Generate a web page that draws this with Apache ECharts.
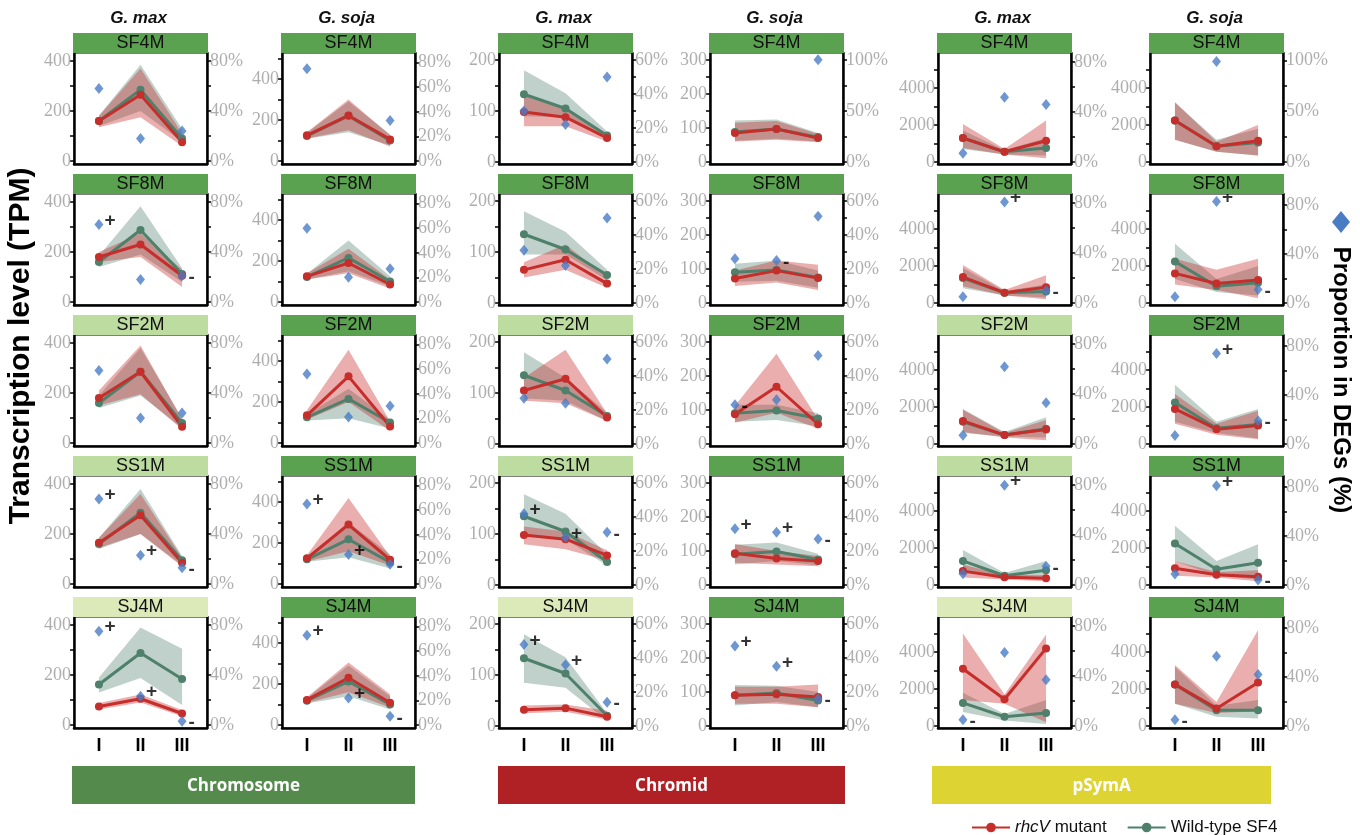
<!DOCTYPE html>
<html><head><meta charset="utf-8">
<script src="https://cdn.jsdelivr.net/npm/echarts@6/dist/echarts.min.js"></script>
<style>html,body{margin:0;padding:0;background:#fff}#c{width:1360px;height:835px}</style>
</head><body><div id="c"></div>
<script>
// ---------------- DATA ----------------
const stages = ['I', 'II', 'III'];
const strains = ['SF4M', 'SF8M', 'SF2M', 'SS1M', 'SJ4M'];
const hosts = ['G. max', 'G. soja', 'G. max', 'G. soja', 'G. max', 'G. soja'];
const replicons = ['Chromosome', 'Chromid', 'pSymA'];
const legendNames = ['rhcV mutant', 'Wild-type SF4'];

// TPM axis per column
const leftRange = [[-12, 432], [-15, 527], [-4, 214], [-6, 320], [-110, 5900], [-110, 5900]];
const leftTicks = [[0,100,200,300,400],[0,100,200,300,400,500],[0,50,100,150,200],[0,50,100,150,200,250,300],[0,1000,2000,3000,4000,5000],[0,1000,2000,3000,4000,5000]];
const leftLabels = [[0,200,400],[0,200,400],[0,100,200],[0,100,200,300],[0,2000,4000],[0,2000,4000]];

// % of DEGs per TPM unit (secondary axis), [column][row]
const rightRatio = [
  [0.2, 0.2, 0.2, 0.2, 0.2],
  [1/6, 1/6, 1/6, 1/6, 1/6],
  [0.3, 0.3, 0.3, 0.3, 0.3],
  [1/3, 0.2, 0.2, 0.2, 0.2],
  [80/5400, 80/5400, 80/5400, 80/5400, 80/5400],
  [100/5500, 80/5300, 80/5300, 80/5300, 80/5300]
];
const rightTickSets = {
  a80: [[0,20,40,60,80],[0,40,80]],
  b80: [[0,20,40,60,80],[0,20,40,60,80]],
  c60: [[0,10,20,30,40,50,60],[0,20,40,60]],
  d100: [[0,25,50,75,100],[0,50,100]]
};
const rightTickType = [
  ['a80','a80','a80','a80','a80'],
  ['b80','b80','b80','b80','b80'],
  ['c60','c60','c60','c60','c60'],
  ['d100','c60','c60','c60','c60'],
  ['a80','a80','a80','a80','a80'],
  ['d100','a80','a80','a80','a80']
];

// rhcV mutant mean TPM, [column][row][stage]
const redMean = [
  [[160,265,75],[180,230,105],[180,285,65],[165,275,85],[74,105,46]],
  [[125,222,105],[125,190,85],[135,325,80],[125,290,118],[122,230,108]],
  [[98,88,47],[65,85,38],[105,128,52],[98,90,58],[32,35,18]],
  [[85,97,70],[72,95,73],[87,168,58],[93,78,70],[90,93,85]],
  [[1300,550,1150],[1400,560,850],[1250,480,780],[750,420,370],[3100,1450,4200]],
  [[2250,850,1150],[1600,1050,1250],[1900,800,1000],[900,550,450],[2250,950,2350]]
];
const redLo = [
  [[135,175,60],[160,180,60],[150,195,55],[145,200,70],[62,90,35]],
  [[110,150,70],[110,140,65],[115,200,60],[110,160,90],[108,160,85]],
  [[70,70,40],[50,65,30],[85,80,45],[80,70,48],[25,28,12]],
  [[60,65,58],[50,60,38],[62,92,45],[65,60,55],[65,65,55]],
  [[750,400,200],[900,400,200],[650,350,200],[400,300,200],[1400,1200,200]],
  [[1200,550,350],[1000,700,250],[1100,500,250],[500,400,200],[1200,700,800]]
];
const redHi = [
  [[180,370,110],[200,275,130],[210,390,95],[185,360,105],[88,122,60]],
  [[140,300,125],[140,260,110],[160,455,105],[140,420,135],[135,305,150]],
  [[130,105,55],[80,115,50],[130,185,60],[115,105,68],[40,42,30]],
  [[115,120,82],[95,125,112],[112,265,72],[120,100,85],[115,115,122]],
  [[2050,700,2250],[2050,700,1500],[1850,600,1300],[1100,550,520],[5000,1700,4950]],
  [[3250,1100,2000],[2400,1800,2400],[2700,1100,1800],[1300,700,800],[3300,1300,5200]]
];
// Wild-type SF4 mean TPM
const wtMean = [
  [[160,285,90],[160,288,112],[160,285,80],[160,285,95],[162,288,184]],
  [[122,220,100],[122,215,100],[125,215,100],[120,218,105],[118,212,100]],
  [[133,105,52],[135,105,55],[135,105,55],[135,105,45],[133,103,20]],
  [[88,97,73],[90,97,75],[90,98,75],[90,98,75],[90,97,75]],
  [[1300,550,750],[1350,550,620],[1200,480,820],[1300,500,800],[1250,500,700]],
  [[2250,850,1050],[2250,900,1100],[2250,850,1050],[2250,850,1200],[2250,850,850]]
];
const wtLo = [
  [[140,200,78],[140,190,80],[140,190,60],[140,200,75],[130,188,80]],
  [[108,140,75],[110,150,75],[110,120,70],[108,130,75],[105,140,75]],
  [[90,88,45],[95,95,45],[90,85,45],[95,90,38],[85,75,10]],
  [[62,68,60],[62,65,45],[65,70,52],[60,70,58],[60,70,55]],
  [[700,400,350],[800,400,300],[600,400,350],[800,300,400],[750,300,100]],
  [[1200,550,350],[1300,600,400],[1200,600,300],[1300,500,300],[1200,500,400]]
];
const wtHi = [
  [[182,385,128],[185,383,135],[190,380,100],[185,380,112],[190,390,305]],
  [[138,290,130],[138,300,125],[140,265,115],[135,300,145],[132,290,140]],
  [[180,135,60],[180,140,65],[180,130,62],[178,140,60],[180,135,25]],
  [[122,125,85],[115,125,95],[115,115,90],[118,125,92],[120,118,100]],
  [[1700,650,1300],[1900,650,1000],[1900,650,1450],[1900,650,1300],[1800,650,1400]],
  [[3200,1200,1800],[3200,1300,2000],[3200,1200,1900],[3200,1300,2200],[3200,1100,1400]]
];
// Proportion in DEGs (%)
const degPct = [
  [[58,18,24],[62,18,21],[58,20,24],[68,23,13],[75,23,3]],
  [[75,null,33],[60,20,27],[56,21,30],[65,24,16],[73,22,7]],
  [[30,22,50],[31,22,50],[27,24,50],[42,28,31],[48,36,14]],
  [[null,null,100],[26,25,51],[23,26,52],[33,31,27],[47,35,16]],
  [[7,52,46],[5,81,10],[7,62,33],[9,80,15],[5,59,37]],
  [[null,99,null],[5,83,11],[7,74,19],[9,81,4],[5,57,42]]
];
const degSign = [
  [['','',''],['+','','-'],['','',''],['+','+','-'],['+','+','-']],
  [['','',''],['','',''],['','',''],['+','+','-'],['+','+','-']],
  [['','',''],['','',''],['','',''],['+','+','-'],['+','+','-']],
  [['','',''],['','-',''],['-','',''],['+','+','-'],['+','+','-']],
  [['','',''],['','+','-'],['','',''],['','+','-'],['-','','']],
  [['','',''],['','+','-'],['','+','-'],['','+','-'],['-','','']]
];
const stripShade = [
  ['dark','dark','light','light','pale'],
  ['dark','dark','dark','dark','dark'],
  ['dark','dark','light','light','pale'],
  ['dark','dark','dark','dark','dark'],
  ['dark','dark','light','light','pale'],
  ['dark','dark','dark','dark','dark']
];

// ---------------- LAYOUT / STYLE ----------------
const colLeft = [74, 282, 499, 710, 938, 1150];
const rowTop = [53, 194, 335, 476, 617];
const W = 133, H = 111;
const RED = '#C62E2B', GREEN = '#4E806C', BLUE = '#4A7CC4';
const stripColors = {dark: '#5AA150', light: '#BCDCA0', pale: '#DCE9B8'};
const repColors = ['#548B4C', '#B02126', '#DDD333'];
const repSpan = [[72, 415], [498, 845], [932, 1271]];
const tickFont = 'Liberation Serif';
const tickColor = '#AEAEAE';

const grids = [], xAxes = [], yAxes = [], series = [], graphics = [];
const xy = arr => arr.map((v, i) => [i + 1, v]);

function bandSeries(p, L, lo, hi, col) {
  return {type: 'custom', xAxisIndex: p, yAxisIndex: L, silent: true, z: 2, clip: true,
    data: lo.map((v, i) => [i + 1, v, hi[i]]),
    encode: {x: 0, y: [1, 2]},
    renderItem: (params, api) => {
      if (params.dataIndex !== 0) return null;
      const top = hi.map((v, i) => api.coord([i + 1, v]));
      const bot = lo.map((v, i) => api.coord([i + 1, v])).reverse();
      return {type: 'polygon', shape: {points: top.concat(bot)}, style: {fill: col}};
    }};
}

for (let c = 0; c < 6; c++) {
  for (let r = 0; r < 5; r++) {
    const p = grids.length;
    const k = rightRatio[c][r];
    const rt = rightTickSets[rightTickType[c][r]];
    grids.push({left: colLeft[c], top: rowTop[r], width: W, height: H, show: true,
      borderColor: '#000', borderWidth: 1, backgroundColor: '#fff'});
    xAxes.push({gridIndex: p, type: 'value', min: 0.4, max: 3.6,
      axisLine: {show: true, onZero: false, lineStyle: {color: '#000', width: 2.5}},
      axisTick: {show: false}, splitLine: {show: false},
      axisLabel: {show: r === 4, customValues: [1, 2, 3], formatter: v => stages[Math.round(v) - 1] || '',
        color: '#000', fontWeight: 'bold', fontSize: 18, fontFamily: 'Liberation Sans', margin: 9}});
    yAxes.push({gridIndex: p, type: 'value', position: 'left', min: leftRange[c][0], max: leftRange[c][1],
      axisLine: {show: true, onZero: false, lineStyle: {color: '#000', width: 2.5}},
      axisTick: {show: true, customValues: leftTicks[c], length: 4, lineStyle: {color: '#000', width: 1.5}},
      axisLabel: {customValues: leftLabels[c], formatter: v => String(Math.round(v)), color: tickColor, fontFamily: tickFont, fontSize: 18, margin: 3},
      splitLine: {show: false}});
    yAxes.push({gridIndex: p, type: 'value', position: 'right', min: leftRange[c][0] * k, max: leftRange[c][1] * k,
      axisLine: {show: true, onZero: false, lineStyle: {color: '#000', width: 2.5}},
      axisTick: {show: true, customValues: rt[0], length: 4, lineStyle: {color: '#000', width: 1.5}},
      axisLabel: {customValues: rt[1], formatter: v => Math.round(v) + '%', color: tickColor, fontFamily: tickFont, fontSize: 18, margin: 3},
      splitLine: {show: false}});

    const L = 2 * p, R = 2 * p + 1;
    series.push(bandSeries(p, L, wtLo[c][r], wtHi[c][r], 'rgba(78,128,108,0.36)'));
    series.push({type: 'line', name: legendNames[1], xAxisIndex: p, yAxisIndex: L, data: xy(wtMean[c][r]),
      symbol: 'circle', symbolSize: 8, lineStyle: {color: GREEN, width: 3}, itemStyle: {color: GREEN}, z: 2});
    series.push(bandSeries(p, L, redLo[c][r], redHi[c][r], 'rgba(200,42,42,0.38)'));
    series.push({type: 'line', name: legendNames[0], xAxisIndex: p, yAxisIndex: L, data: xy(redMean[c][r]),
      symbol: 'circle', symbolSize: 8, lineStyle: {color: RED, width: 3}, itemStyle: {color: RED}, z: 2});
    const pts = [], signs = [];
    degPct[c][r].forEach((v, i) => {
      if (v == null) return;
      pts.push([i + 1, v]);
      const s = degSign[c][r][i];
      if (s) signs.push({name: s, value: [i + 1, v],
        label: {offset: s === '+' ? [0, -4] : [1, 2]}});
    });
    series.push({type: 'scatter', xAxisIndex: p, yAxisIndex: R, data: pts, symbol: 'diamond',
      symbolSize: [9, 11], itemStyle: {color: BLUE}, z: 3});
    series.push({type: 'scatter', xAxisIndex: p, yAxisIndex: R, data: signs, symbolSize: 1,
      itemStyle: {color: 'rgba(0,0,0,0)'}, z: 4, silent: true,
      label: {show: true, position: 'right', distance: 5, formatter: '{b}', fontSize: 19,
        fontWeight: 'bold', color: '#000', fontFamily: 'Liberation Sans'}});

    // strip
    graphics.push({type: 'rect', shape: {x: colLeft[c] - 1, y: rowTop[r] - 20, width: W + 2, height: 20},
      style: {fill: stripColors[stripShade[c][r]]}, z: 10});
    graphics.push({type: 'text', x: colLeft[c] + W / 2, y: rowTop[r] - 9.5, z: 11,
      style: {text: strains[r], align: 'center', verticalAlign: 'middle', font: '18px Liberation Sans', fill: '#111'}});
  }
  graphics.push({type: 'text', x: colLeft[c] + W / 2 - 2, y: 18, z: 11,
    style: {text: hosts[c], align: 'center', verticalAlign: 'middle', font: 'italic bold 17px Liberation Sans', fill: '#111'}});
}
replicons.forEach((name, i) => {
  const [a, b] = repSpan[i];
  graphics.push({type: 'rect', shape: {x: a, y: 766, width: b - a, height: 38}, style: {fill: repColors[i]}, z: 10});
  graphics.push({type: 'text', x: (a + b) / 2, y: 786, z: 11,
    style: {text: name, align: 'center', verticalAlign: 'middle', font: 'bold 17px Open Sans', fill: '#fff'}});
});
graphics.push({type: 'text', x: 21, y: 346, rotation: Math.PI / 2, z: 11,
  style: {text: 'Transcription level (TPM)', align: 'center', verticalAlign: 'middle', font: 'bold 30px Liberation Sans', fill: '#000'}});
graphics.push({type: 'text', x: 1341, y: 380, rotation: -Math.PI / 2, z: 11,
  style: {text: 'Proportion in DEGs (%)', align: 'center', verticalAlign: 'middle', font: 'bold 24px Liberation Sans', fill: '#000'}});
graphics.push({type: 'polygon', shape: {points: [[1341, 211], [1350, 222], [1341, 233], [1332, 222]]}, style: {fill: BLUE}, z: 11});

const chart = echarts.init(document.getElementById('c'), null, {renderer: 'canvas'});
chart.setOption({
  animation: false,
  backgroundColor: '#fff',
  grid: grids, xAxis: xAxes, yAxis: yAxes, series: series,
  legend: {data: legendNames, left: 966, top: 814, itemWidth: 38, itemHeight: 12, itemGap: 20,
    selectedMode: false,
    formatter: n => n === legendNames[0] ? '{i|rhcV} mutant' : n,
    textStyle: {fontSize: 17, color: '#111', fontFamily: 'Liberation Sans',
      rich: {i: {fontStyle: 'italic', fontSize: 17, fontFamily: 'Liberation Sans', color: '#111'}}}},
  graphic: graphics
});
</script>
</body></html>
